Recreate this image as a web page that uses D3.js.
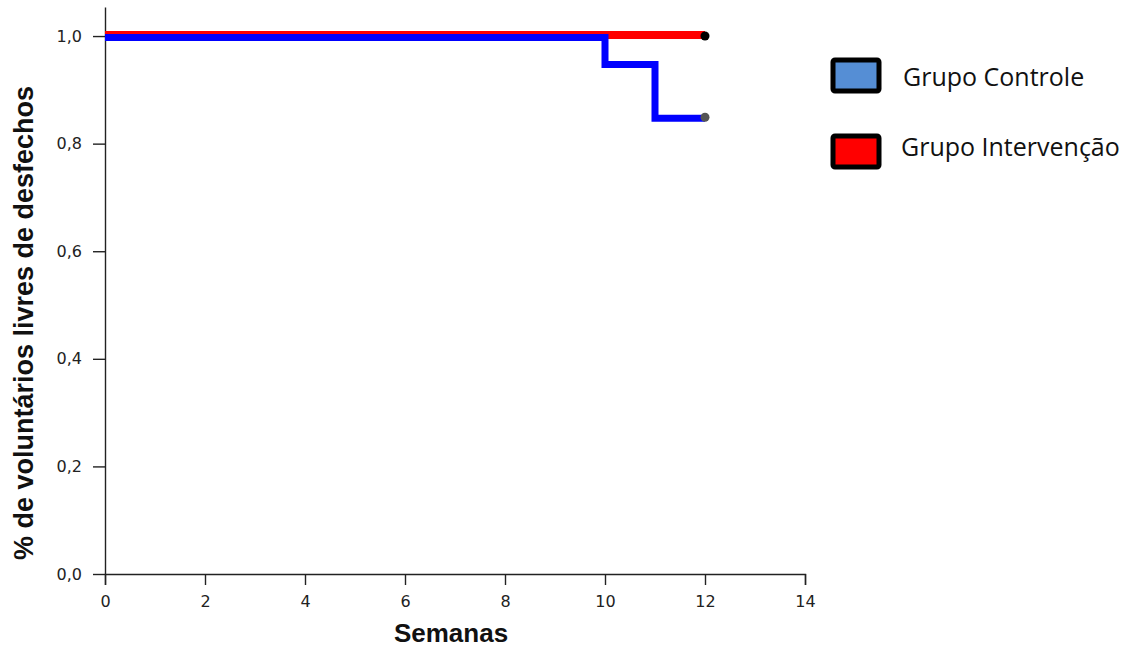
<!DOCTYPE html>
<html>
<head>
<meta charset="utf-8">
<script src="https://cdn.jsdelivr.net/npm/d3@7"></script>
<style>
  body { margin: 0; background: #fff; }
  .axis text { font-family: "DejaVu Sans", sans-serif; font-size: 16px; fill: #222; }
  .axis path, .axis line { stroke: #222; stroke-width: 1.4; }
  .title { font-family: Arial, "Liberation Sans", sans-serif; font-weight: bold; fill: #111; }
  .legendText { font-family: "Open Sans", sans-serif; font-size: 25px; fill: #111; }
</style>
</head>
<body>
<div class="kmChart"></div>
<script>
// survival steps (weeks, proportion free of outcomes)
const weeks = [0, 10, 10, 11, 11, 12]
const controle = [1.0, 1.0, 0.95, 0.95, 0.85, 0.85]
const intervencao = [1.0, 1.0, 1.0, 1.0, 1.0, 1.0]
const groups = ['Grupo Controle', 'Grupo Intervenção']
const xTicks = [0, 2, 4, 6, 8, 10, 12, 14]
const yTicks = [0, 0.2, 0.4, 0.6, 0.8, 1.0]

const width = 1129, height = 647
const margins = { top: 7, right: 324, bottom: 73, left: 105 }
const innerWidth = width - margins.left - margins.right
const innerHeight = height - margins.top - margins.bottom

const svg = d3.select('.kmChart')
    .append('svg')
    .attr('width', width)
    .attr('height', height)
    .style('display', 'block')
    .append('g')
    .attr('transform', `translate(${margins.left}, ${margins.top})`)

const xScale = d3.scaleLinear().domain([0, 14]).range([0, innerWidth])
const yScale = d3.scaleLinear().domain([0, 1.054]).range([innerHeight, 0])

svg.append('g')
    .attr('class', 'axis axis__x')
    .attr('transform', `translate(0, ${innerHeight})`)
    .call(d3.axisBottom(xScale).tickValues(xTicks).tickSize(11).tickSizeOuter(11).tickPadding(11))

svg.append('g')
    .attr('class', 'axis axis__y')
    .call(d3.axisLeft(yScale).tickValues(yTicks).tickSize(12).tickSizeOuter(0).tickPadding(11)
        .tickFormat(d => d3.format('.1f')(d).replace('.', ',')))

const line = d3.line()
    .x(d => xScale(d[0]))
    .y(d => yScale(d[1]))

// red first, blue over it, slightly below as in the picture
svg.append('path')
    .datum(d3.zip(weeks, intervencao))
    .attr('d', line)
    .attr('fill', 'none')
    .attr('stroke', '#ff0000')
    .attr('stroke-width', 8)
    .attr('transform', 'translate(0, -1)')

svg.append('path')
    .datum(d3.zip(weeks, controle))
    .attr('d', line)
    .attr('fill', 'none')
    .attr('stroke', '#0000ff')
    .attr('stroke-width', 7)
    .attr('transform', 'translate(0, 1.5)')

// censor marks at the end
svg.append('circle')
    .attr('cx', xScale(weeks[weeks.length - 1]))
    .attr('cy', yScale(intervencao[intervencao.length - 1]))
    .attr('r', 4.5)
    .attr('fill', '#000')

svg.append('circle')
    .attr('cx', xScale(weeks[weeks.length - 1]))
    .attr('cy', yScale(controle[controle.length - 1]) + 0.5)
    .attr('r', 4.5)
    .attr('fill', '#555')

// axis titles
svg.append('text')
    .attr('class', 'title')
    .attr('x', 451 - margins.left)
    .attr('y', 642 - margins.top)
    .attr('text-anchor', 'middle')
    .style('font-size', '26px')
    .text('Semanas')

svg.append('text')
    .attr('class', 'title')
    .attr('transform', `translate(${33 - margins.left}, ${323 - margins.top}) rotate(-90)`)
    .attr('text-anchor', 'middle')
    .style('font-size', '27px')
    .text('% de voluntários livres de desfechos')

// legend
const legend = d3.select('svg').append('g')
    .attr('transform', 'translate(833, 60)')

legend.selectAll('rect')
    .data(groups)
    .join('rect')
    .attr('x', 0)
    .attr('y', (d, i) => i * 76)
    .attr('width', 46)
    .attr('height', 31)
    .attr('rx', 2)
    .attr('fill', (d, i) => i === 0 ? '#558ed5' : '#ff0000')
    .attr('stroke', '#000')
    .attr('stroke-width', 5)

legend.selectAll('text')
    .data(groups)
    .join('text')
    .attr('class', 'legendText')
    .attr('x', (d, i) => i === 0 ? 70 : 68)
    .attr('y', (d, i) => i === 0 ? 26 : 96)
    .text(d => d)
</script>
</body>
</html>
